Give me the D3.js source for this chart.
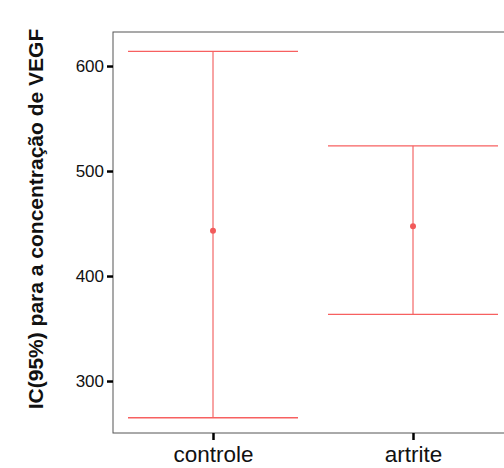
<!DOCTYPE html>
<html>
<head>
<meta charset="utf-8">
<script src="https://cdn.jsdelivr.net/npm/d3@7"></script>
<style>
  body { margin: 0; background: #fff; }
  svg { display: block; font-family: "Liberation Sans", Arial, sans-serif; }
</style>
</head>
<body>
<div id="chart"></div>
<script>
const width = 504;
const height = 468;

// data
const groups = ["controle", "artrite"];
const means = [443, 447.5];
const lower = [265, 363.5];
const upper = [614, 524];
const yTicks = [300, 400, 500, 600];

const plotLeft = 113, plotRight = 513, plotTop = 32, plotBottom = 433;

const x = d3.scalePoint().domain(groups).range([plotLeft, plotRight]).padding(0.5);
const y = d3.scaleLinear().domain([250.5, 632.4]).range([plotBottom, plotTop]);

const svg = d3.select("#chart").append("svg")
    .attr("width", width).attr("height", height);

// frame
svg.append("rect")
    .attr("x", plotLeft).attr("y", plotTop)
    .attr("width", plotRight - plotLeft).attr("height", plotBottom - plotTop)
    .attr("fill", "none").attr("stroke", "#555").attr("stroke-width", 1);

// y axis
const yAxis = svg.append("g")
    .attr("transform", `translate(${plotLeft},0)`)
    .call(d3.axisLeft(y).tickValues(yTicks).tickSize(6).tickPadding(3));
yAxis.select(".domain").remove();
yAxis.selectAll(".tick line").attr("stroke", "#000").attr("stroke-width", 2.5);
yAxis.selectAll(".tick text").attr("fill", "#111").style("font-size", "17px");

// x axis
const xAxis = svg.append("g")
    .attr("transform", `translate(0,${plotBottom})`)
    .call(d3.axisBottom(x).tickSize(7).tickPadding(6));
xAxis.select(".domain").remove();
xAxis.selectAll(".tick line").attr("stroke", "#000").attr("stroke-width", 2.5);
xAxis.selectAll(".tick text").attr("fill", "#111").style("font-size", "22.5px");

// y label
svg.append("text")
    .attr("transform", "translate(42.5,219) rotate(-90)")
    .attr("text-anchor", "middle")
    .style("font-size", "21px")
    .style("font-weight", "bold")
    .attr("fill", "#111")
    .text("IC(95%) para a concentração de VEGF");

// error bars
const half = x.step() * 0.425;
const bars = svg.append("g").selectAll("g")
    .data(groups)
    .join("g");

bars.append("line")
    .attr("x1", d => x(d)).attr("x2", d => x(d))
    .attr("y1", (d, i) => y(upper[i])).attr("y2", (d, i) => y(lower[i]))
    .attr("stroke", "#f04848").attr("stroke-width", 1);

bars.append("line")
    .attr("x1", d => x(d) - half).attr("x2", d => x(d) + half)
    .attr("y1", (d, i) => y(upper[i])).attr("y2", (d, i) => y(upper[i]))
    .attr("stroke", "#f76060").attr("stroke-width", 1.3);

bars.append("line")
    .attr("x1", d => x(d) - half).attr("x2", d => x(d) + half)
    .attr("y1", (d, i) => y(lower[i])).attr("y2", (d, i) => y(lower[i]))
    .attr("stroke", "#f76060").attr("stroke-width", 1.3);

bars.append("circle")
    .attr("cx", d => x(d))
    .attr("cy", (d, i) => y(means[i]))
    .attr("r", 3)
    .attr("fill", "#f25a5a");
</script>
</body>
</html>
